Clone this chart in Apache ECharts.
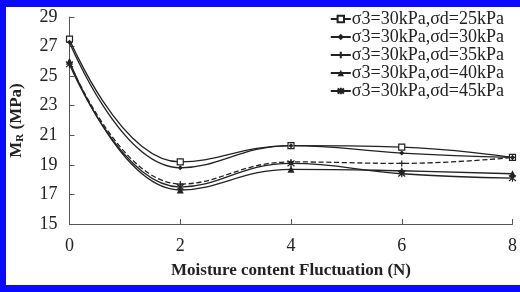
<!DOCTYPE html>
<html>
<head>
<meta charset="utf-8">
<script src="https://cdn.jsdelivr.net/npm/echarts@6/dist/echarts.min.js"></script>
<style>
  html, body { margin: 0; padding: 0; background: #fff; }
  #frame {
    width: 514px; height: 278px;
    border-left: 6px solid #0a0aff;
    border-top: 7px solid #0a0aff;
    border-bottom: 7px solid #0a0aff;
    position: relative;
  }
  #chart { position: absolute; left: -6px; top: -7px; width: 520px; height: 292px; }
</style>
</head>
<body>
<div id="frame"><div id="chart"></div></div>
<script>
// 含水率波动次数
const cycles = [0, 2, 4, 6, 8]
const yTicks = [15, 17, 19, 21, 23, 25, 27, 29]

const names = [
  'σ3=30kPa,σd=25kPa',
  'σ3=30kPa,σd=30kPa',
  'σ3=30kPa,σd=35kPa',
  'σ3=30kPa,σd=40kPa',
  'σ3=30kPa,σd=45kPa'
]
const mr25 = [27.5, 19.2, 20.3, 20.2, 19.5]
const mr30 = [27.3, 18.8, 20.3, 19.8, 19.5]
const mr35 = [25.9, 17.7, 19.2, 19.1, 19.5]
const mr40 = [26.0, 17.3, 18.7, 18.6, 18.4]
const mr45 = [25.8, 17.5, 19.1, 18.4, 18.1]

const seriesData = [mr25, mr30, mr35, mr40, mr45]
const symbols = [
  'rect',
  'diamond',
  'path://M-5,0L5,0M0,-2L0,2',
  'triangle',
  'path://M-4,-4L4,4M-4,4L4,-4M0,-5L0,5'
]
const symbolSizes = [6, 5, 6, 7, 7]
const dashes = ['solid', 'solid', 'dashed', 'solid', 'solid']

const ink = '#222'
const serif = '"Liberation Serif", "DejaVu Serif", serif'

const myChart = echarts.init(document.getElementById('chart'))

myChart.setOption({
  animation: false,
  grid: { left: 68, right: 5, top: 17, bottom: 68, containLabel: false },
  legend: {
    orient: 'vertical',
    right: 11,
    top: 5,
    itemGap: 0,
    itemWidth: 20,
    itemHeight: 8,
    textStyle: { fontFamily: serif, fontSize: 18, lineHeight: 18, color: ink, padding: [0, 0, 0, -4] },
    data: names
  },
  xAxis: {
    type: 'value',
    min: 0,
    max: 8,
    interval: 2,
    name: 'Moisture content Fluctuation (N)',
    nameLocation: 'middle',
    nameGap: 38,
    nameTextStyle: { fontFamily: serif, fontSize: 17, fontWeight: 'bold', color: ink },
    axisLine: { lineStyle: { color: '#555', width: 1 } },
    axisTick: { inside: true, length: 5, lineStyle: { color: '#555' } },
    axisLabel: { fontFamily: serif, fontSize: 18, color: ink, margin: 13 },
    splitLine: { show: false }
  },
  yAxis: {
    type: 'value',
    min: yTicks[0],
    max: yTicks[yTicks.length - 1],
    interval: 2,
    name: '{b|M}{s|R}{b| (MPa)}',
    nameLocation: 'middle',
    nameGap: 44,
    nameTextStyle: {
      rich: {
        b: { fontFamily: serif, fontSize: 17, fontWeight: 'bold', color: ink },
        s: { fontFamily: serif, fontSize: 11, fontWeight: 'bold', color: ink, verticalAlign: 'bottom', padding: [7, 0, 0, 0] }
      }
    },
    axisLine: { show: true, lineStyle: { color: '#555', width: 1 } },
    axisTick: { show: true, inside: true, length: 5, lineStyle: { color: '#555' } },
    axisLabel: { fontFamily: serif, fontSize: 18, color: ink, margin: 12 },
    splitLine: { show: false }
  },
  series: seriesData.map((vals, i) => ({
    name: names[i],
    type: 'line',
    smooth: 0.45,
    data: cycles.map((c, j) => [c, vals[j]]),
    symbol: symbols[i],
    symbolSize: symbolSizes[i],
    showSymbol: true,
    lineStyle: { color: ink, width: 1.3, type: dashes[i] },
    itemStyle: {
      color: i === 0 ? '#fff' : ink,
      borderColor: ink,
      borderWidth: i === 0 ? 1.2 : (i === 2 || i === 4 ? 1.2 : 0)
    }
  }))
})
</script>
</body>
</html>
